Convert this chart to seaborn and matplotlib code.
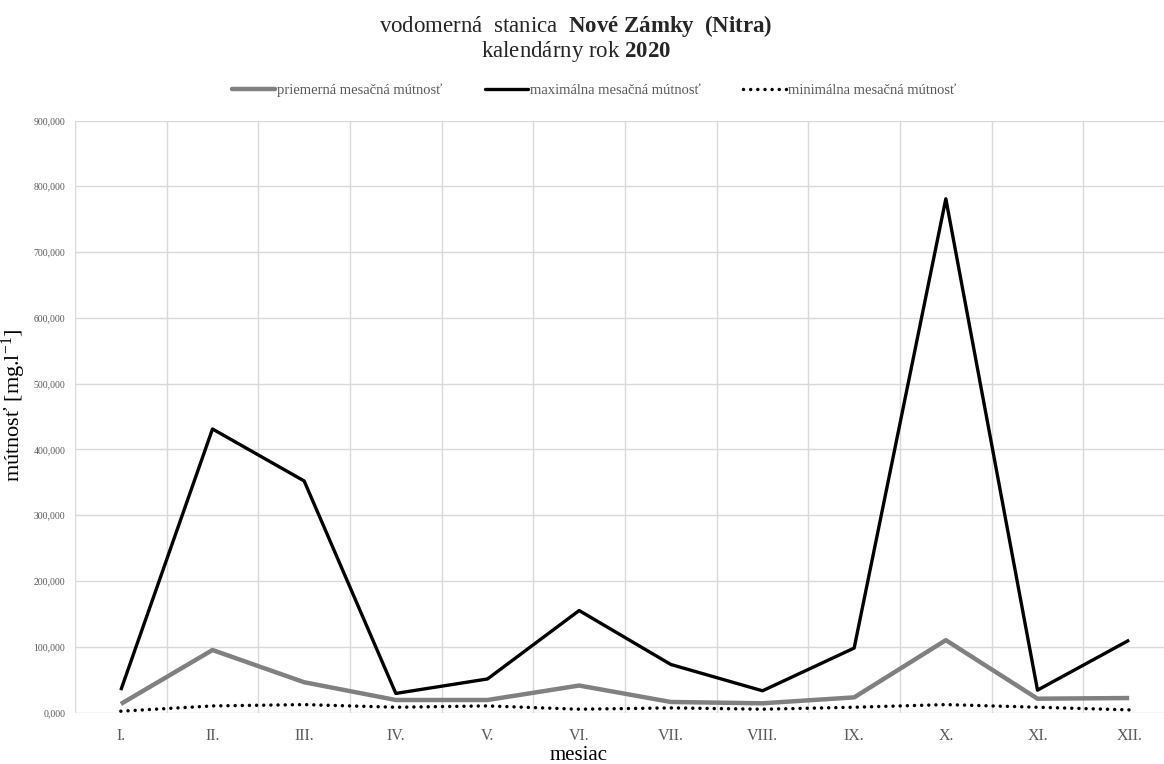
import matplotlib
matplotlib.use("Agg")
import matplotlib.pyplot as plt
import seaborn as sns
import pandas as pd
import numpy as np
from matplotlib.ticker import FuncFormatter, FixedLocator
from matplotlib.lines import Line2D

months = ["I.", "II.", "III.", "IV.", "V.", "VI.", "VII.", "VIII.", "IX.", "X.", "XI.", "XII."]
mean_vals = [13, 95, 46, 19, 19, 41, 16, 14, 23, 110, 21, 22]
max_vals = [34, 431, 352, 29, 51, 155, 73, 33, 98, 781, 34, 110]
min_vals = [2, 10, 12, 8, 10, 5, 7, 5, 8, 12, 8, 4]
series_names = ["priemerná mesačná mútnosť", "maximálna mesačná mútnosť", "minimálna mesačná mútnosť"]
y_ticks = [0, 100, 200, 300, 400, 500, 600, 700, 800, 900]

sns.set_theme(style="white")
plt.rcParams["font.family"] = ["Liberation Serif", "DejaVu Serif"]
plt.rcParams["mathtext.fontset"] = "custom"
plt.rcParams["mathtext.rm"] = "Liberation Serif"
plt.rcParams["mathtext.it"] = "Liberation Serif:italic"
plt.rcParams["mathtext.bf"] = "Liberation Serif:bold"

idx = np.arange(len(months))
df = pd.DataFrame({
    "x": np.concatenate([idx, idx, idx]),
    "y": mean_vals + max_vals + min_vals,
    "s": [series_names[0]] * 12 + [series_names[1]] * 12 + [series_names[2]] * 12,
})

fig = plt.figure(figsize=(11.64, 7.64), dpi=100)
ax = fig.add_axes([75 / 1164, 51.5 / 764, (1175 - 75) / 1164, (712.5 - 120.5) / 764])

styles = {
    series_names[0]: dict(color="#808080", lw=3.2, ls="-"),
    series_names[1]: dict(color="#000000", lw=2.4, ls="-"),
    series_names[2]: dict(color="#000000", lw=2.5, ls=(0, (0.01, 2.05))),
}
for name in series_names:
    st = styles[name]
    sub = df[df["s"] == name]
    sns.lineplot(data=sub, x="x", y="y", ax=ax, color=st["color"], linewidth=st["lw"],
                 linestyle=st["ls"], sort=False, legend=False, zorder=3,
                 solid_capstyle="butt", dash_capstyle="round")

ax.set_xlim(-0.5, 11.5)
ax.set_ylim(0, 900)
ax.set_xticks(idx)
ax.set_xticklabels(months)
ax.xaxis.set_minor_locator(FixedLocator(np.arange(-0.5, 12, 1)))
ax.set_yticks(y_ticks)
ax.yaxis.set_major_formatter(FuncFormatter(lambda v, p: f"{v:.3f}".replace(".", ",")))
ax.grid(False)
ax.grid(which="minor", axis="x", color="#d9d9d9", lw=1.0)
ax.grid(which="major", axis="y", color="#d9d9d9", lw=1.0)
for s in ax.spines.values():
    s.set_visible(False)
ax.tick_params(axis="x", which="both", length=0, pad=11, labelsize=11.5, labelcolor="#595959")
ax.tick_params(axis="y", which="both", length=0, pad=7, labelsize=7, labelcolor="#595959")

ax.set_xlabel("mesiac", fontsize=15, color="#000000")
ax.set_ylabel("mútnosť [mg.l$^{-1}$]", fontsize=16, color="#000000")
ax.xaxis.set_label_coords((579 - 75) / 1100, -0.056)
ax.yaxis.set_label_coords(-(75 - 28) / 1100, (712.5 - 405) / 592)

fig.text(576 / 1164, 1 - 26 / 764, r"vodomerná  stanica  $\mathbf{Nové\ Zámky\ \ (Nitra)}$",
         ha="center", va="center", fontsize=16.5)
fig.text(576 / 1164, 1 - 52 / 764, r"kalendárny rok $\mathbf{2020}$",
         ha="center", va="center", fontsize=16.5)

handles = [Line2D([0], [0], color=styles[n]["color"], lw=styles[n]["lw"], ls=styles[n]["ls"],
                  dash_capstyle="round") for n in series_names]
leg = fig.legend(handles, series_names, loc="center", bbox_to_anchor=(594 / 1164, 1 - 90 / 764),
                 ncol=3, frameon=False, fontsize=10.5, handlelength=3.0, handletextpad=0.1,
                 columnspacing=2.9)
for t in leg.get_texts():
    t.set_color("#595959")

fig.savefig("out.png", dpi=100)
